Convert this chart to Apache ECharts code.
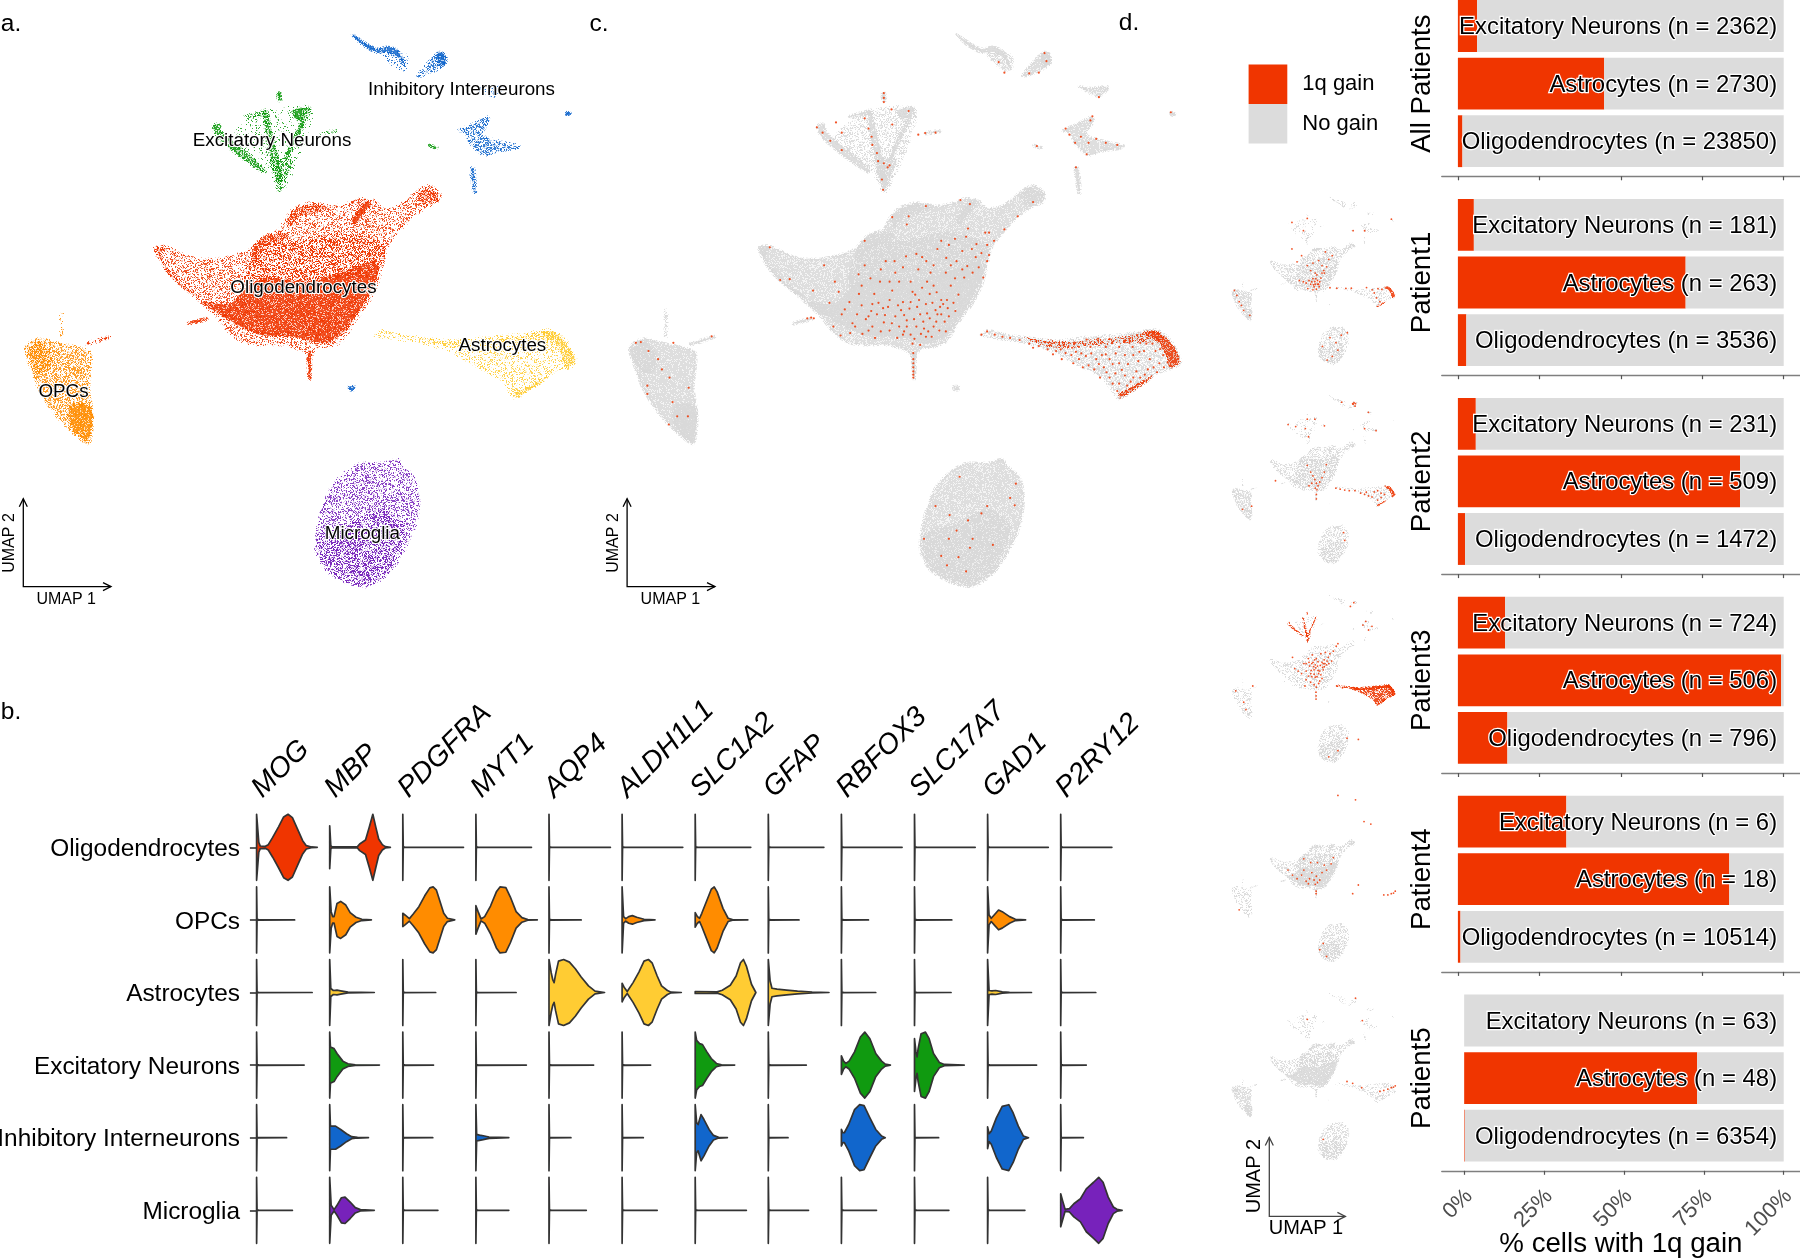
<!DOCTYPE html>
<html><head><meta charset="utf-8">
<style>html,body{margin:0;padding:0;background:#fff}#c{width:1800px;height:1259px}</style>
<script src="https://cdn.jsdelivr.net/npm/echarts@6/dist/echarts.min.js"></script>
</head><body><div id="c"></div>
<script>
/* ---------- cell types and colours ---------- */
const cellTypes = ['Oligodendrocytes','OPCs','Astrocytes','Excitatory Neurons','Inhibitory Interneurons','Microglia'];
const cellColors = ['#F03500','#FF8C00','#FFCC33','#109A10','#1166CC','#7722BB'];
const RED = '#F03500', GREY = '#D8D8D8';

/* ---------- UMAP outlines (UMAP units 0-1568) ---------- */
const oligoOutline = [[403,607],[425,602],[455,612],[490,628],[530,635],[580,632],[630,620],[655,610],[690,575],[730,562],[745,535],[770,510],[815,497],[870,505],[920,495],[940,487],[975,490],[1000,510],[1040,505],[1075,480],[1100,462],[1125,455],[1150,475],[1145,495],[1110,510],[1075,535],[1040,570],[1010,610],[1000,650],[985,700],[960,745],[925,790],[895,835],[860,850],[825,855],[812,880],[810,930],[805,880],[790,860],[740,845],[680,845],[640,840],[600,815],[560,770],[500,720],[440,670],[415,635]];
const oligoCore = [[530,740],[600,745],[650,700],[700,680],[800,690],[900,665],[975,640],[990,660],[965,720],[925,780],[885,825],[840,840],[770,825],[680,820],[620,795],[575,770]];
const oligoMid = [[650,640],[700,600],[790,590],[900,570],[1000,600],[990,660],[900,680],[780,690],[680,700],[640,700]];
const oligoArcA = [[660,612],[690,580],[745,570],[755,582],[700,600],[672,628],[664,660]];
const oligoArcB = [[750,540],[775,512],[820,502],[855,508],[830,520],[780,530],[758,555]];
const oligoStreak = [[920,540],[955,495],[970,497],[948,525],[928,550]];
const oligoTip = [[1090,480],[1112,462],[1145,478],[1140,492],[1105,500]];
const oligoEdge = [[408,610],[428,606],[418,630],[455,678],[520,728],[495,716],[440,668]];
const oligoStream = [[492,792],[538,780],[541,783],[496,794]];
const oligoStem = [[805,865],[812,865],[810,928],[807,928]];
const opcOutline = [[65,855],[80,838],[105,830],[150,840],[200,850],[238,865],[232,950],[242,1020],[232,1087],[190,1060],[140,1010],[100,950],[80,900]];
const opcCoreTop = [[72,860],[105,838],[130,860],[130,905],[100,910]];
const opcCoreLow = [[190,990],[238,1000],[230,1080],[192,1052],[178,1020]];
const opcStem = [[159,760],[163,760],[162,825],[159,825]];
const opcStream = [[224,842],[288,823],[288,826],[228,845]];
const astroOutline = [[980,822],[1000,810],[1060,822],[1130,830],[1180,835],[1270,825],[1350,820],[1440,808],[1470,825],[1490,850],[1507,885],[1490,900],[1440,915],[1400,945],[1345,978],[1330,960],[1300,925],[1230,890],[1170,860],[1100,840],[1030,830]];
const astroTopBand = [[1100,828],[1200,838],[1350,826],[1440,812],[1465,828],[1445,835],[1350,840],[1180,852],[1130,840]];
const astroRightBand = [[1410,815],[1440,812],[1468,828],[1488,852],[1503,885],[1480,900],[1470,875],[1450,840]];
const astroBottomBand = [[1345,965],[1400,938],[1430,922],[1412,938],[1348,974]];
const microgliaOutline = [[945,1135],[1000,1135],[1040,1125],[1050,1140],[1085,1170],[1095,1220],[1085,1290],[1050,1360],[1010,1410],[960,1437],[900,1425],[850,1395],[825,1345],[835,1270],[865,1195],[905,1155]];
const microgliaCore = [[835,1310],[900,1290],[1000,1250],[1060,1290],[1020,1390],[960,1430],[880,1410],[840,1370]];
const excFan = [[600,340],[690,275],[815,268],[735,472],[700,420]];
const excLeftArm = [[557,308],[572,304],[580,325],[640,372],[695,418],[688,422],[620,378],[565,332]];
const excTopBar = [[640,285],[688,272],[696,272],[696,280],[650,288]];
const excStalk = [[688,272],[697,270],[712,330],[728,390],[740,440],[728,448],[708,385],[696,330]];
const excRightArm = [[795,265],[810,264],[802,290],[778,335],[750,392],[742,394],[764,340],[785,300]];
const excWedge = [[765,272],[792,266],[782,295]];
const excLow = [[708,392],[762,392],[750,430],[730,470],[718,438]];
const excTop = [[726,228],[732,228],[734,246],[728,246]];
const excStream = [[838,325],[878,320],[878,322],[840,328]];
const excDot = [[1122,356],[1142,361],[1140,363],[1122,358]];
const inhArm = [[920,84],[950,103],[985,120],[1015,115],[1040,125],[1058,158],[1046,145],[1020,128],[985,128],[945,108]];
const inhFaint = [[1000,130],[1060,135],[1065,170],[1040,170]];
const inhRight = [[1092,185],[1130,142],[1150,128],[1165,136],[1162,158],[1135,174],[1102,186]];
const inhRightCore = [[1142,132],[1162,132],[1165,156],[1147,160]];
const inhLower = [[1198,320],[1240,302],[1272,286],[1278,296],[1258,330],[1310,347],[1356,357],[1352,363],[1300,370],[1265,380],[1228,350],[1218,325]];
const inhStalk = [[1230,412],[1238,412],[1243,473],[1239,473],[1233,440]];
const inhDot = [[1480,275],[1490,277],[1488,283],[1481,281]];
const inhSpot = [[912,947],[926,947],[924,955],[914,955]];
const inhUpper = [[1240,213],[1272,216],[1318,212],[1292,236]];

const gainOligo = [[432,606],[459,686],[484,684],[574,650],[545,712],[547,780],[612,715],[617,822],[672,700],[680,650],[640,740],[660,770],[690,775],[705,720],[720,690],[735,640],[758,640],[770,690],[752,712],[745,735],[728,755],[700,800],[690,810],[712,770],[760,775],[775,760],[790,800],[800,820],[815,800],[825,770],[840,745],[800,740],[805,715],[830,705],[850,720],[860,700],[880,735],[870,770],[850,780],[835,805],[860,800],[880,770],[895,735],[905,700],[885,745],[790,785],[770,800],[810,830],[825,845],[855,825],[875,810],[900,775],[840,505],[752,532],[795,530],[955,500],[930,490],[1080,530],[1120,495],[1045,562],[1005,570],[985,620],[1000,600],[960,610],[970,630],[945,580],[950,560],[880,590],[870,610],[905,650],[935,660],[940,680],[920,640],[990,680],[1000,640],[780,655],[820,660],[800,690],[860,650],[830,630],[900,600],[680,590],[790,550],[620,770],[598,800],[655,800],[730,790],[745,810],[780,820],[840,825],[865,760],[822,735],[780,740],[745,690],[700,745],[665,720],
[628,758],[648,792],[672,748],[683,782],[697,762],[716,742],[733,772],[741,752],[751,792],[767,748],[783,772],[797,756],[809,782],[817,752],[833,788],[843,768],[857,742],[867,788],[877,752],[889,788],[897,755],[912,742],[925,722],[917,762],[892,812],[846,812],[827,818],[805,842],[783,812],[765,828],[722,812],[707,828],[674,818],[642,816],[812,722],[843,690],[868,716],[852,668],[892,668],[916,682],[948,652],[962,668],[978,655],[1005,625],[1018,590],[995,570],[972,598],[935,615],[916,585],[893,632],[841,640],[815,622],[788,628],[760,668],[722,660],[695,682],[664,672],[602,690],[588,742],
[807,865],[807,880],[807,890],[807,900],[807,910],[807,918],[807,925],[540,778],[530,780]];
const gainOther = [[82,840],[95,838],[115,860],[140,880],[150,905],[170,925],[112,945],[112,965],[178,985],[190,1020],[218,1020],[168,1040],[220,950],[180,840],[280,824],
[555,312],[570,325],[590,345],[620,368],[605,300],[620,325],[680,290],[690,315],[698,335],[700,355],[712,375],[715,395],[730,400],[740,410],[725,440],[728,465],[745,405],[730,228],[730,240],[730,250],[750,268],[795,272],[752,305],[820,330],[838,326],[865,325],[1130,358],
[1030,152],[1045,178],[1110,180],[1135,178],[1150,130],[1155,150],[1275,285],[1270,295],[1205,315],[1215,330],[1230,350],[1245,335],[1265,350],[1285,340],[1310,350],[1340,355],[1260,378],[1232,410],[1480,275],[1292,238],
[928,1168],[1075,1185],[1060,1220],[1072,1238],[865,1240],[902,1262],[1000,1240],[950,1275],[985,1258],[920,1300],[962,1320],[835,1320],[900,1320],[955,1342],[880,1362],[925,1365],[895,1385],[945,1400],[1015,1335]];
const gainAstro = [[985,820],[1000,812],[1020,820],[1040,825],[1060,828],[1085,833],[1110,842],[1120,852],[1135,848],[1150,838],[1165,845],[1180,860],[1195,880],[1205,865],[1220,870],[1225,890],[1240,880],[1250,900],[1265,895],[1280,905],[1295,925],[1285,880],[1305,900],[1320,925],[1335,915],[1345,940],[1360,920],[1375,935],[1300,870],[1320,880],[1345,850],[1360,870],[1395,885],[1410,860],[1425,880],[1435,900],[1380,850],[1345,890],[1310,850],[1270,850],[1240,850],[1390,910],[1400,925],[1420,905],[1450,890],[1460,870],[1440,860],[1400,840],[1360,835],[1320,830],[1290,830],[1260,832],[1230,840],[1200,845],[1175,840],
[1128,836],[1158,856],[1172,868],[1212,850],[1232,862],[1258,872],[1272,866],[1292,892],[1312,912],[1328,892],[1352,906],[1368,892],[1382,870],[1398,862],[1416,842],[1432,842],[1452,855],[1472,888],[1462,900],[1444,912],[1412,918],[1382,925],[1366,945],[1340,958],[1328,940],[1310,868],[1336,866],[1372,840],[1246,866],[1222,852],[1192,856]];
const gainAll = gainOligo.concat(gainOther,gainAstro);
const gainPatient1 = [[1252,817],[1302,835],[1353,826],[1388,832],[1320,860],[1340,900],[1370,930],[930,818],[990,822],[1070,824],[1118,822],[595,506],[640,610],[680,560],[730,640],[760,680],[800,700],[797,768],[780,745],[820,760],[850,740],[830,790],[790,810],[760,790],[720,780],[695,770],[660,760],[880,700],[900,650],[860,640],[920,590],[950,560],[890,530],[830,600],[780,620],[810,830],[820,790],[735,825],[780,835],[88,840],[110,880],[130,930],[170,1000],[224,1040],[150,960],[864,1290],[930,1220],[983,1260],[1030,1200],[1083,1180],[1000,1320],[950,1370],[905,1400],[595,293],[696,359],[730,261],[1134,359],[1235,360],[1471,267],[770,770],[805,745],[840,770],[745,760],[860,700],[875,680],[815,715],[785,795],[835,810],[800,790]];
const gainPatient2 = [[982,830],[1020,838],[1060,845],[1100,850],[1150,850],[1200,870],[1235,880],[1270,892],[1320,860],[1350,850],[1300,900],[1350,925],[1380,905],[1410,880],[730,646],[760,700],[780,730],[797,760],[810,790],[825,810],[840,780],[770,790],[745,810],[860,745],[880,700],[898,640],[800,830],[815,843],[810,880],[810,915],[561,318],[628,334],[730,275],[797,275],[881,328],[741,416],[713,350],[1033,138],[1134,154],[1151,170],[1269,220],[1235,351],[1336,367],[240,974],[160,1000],[1050,1187],[1060,1250],[450,770],[1130,150],[1142,142],[1155,150],[1250,862],[1380,870]];
const gainPatient3 = [[600,590],[620,680],[680,720],[700,640],[720,700],[740,600],[750,660],[760,720],[775,570],[780,630],[790,690],[800,750],[810,600],[820,660],[830,720],[840,780],[850,560],[860,630],[870,690],[880,610],[890,550],[900,650],[915,590],[930,560],[945,620],[960,540],[985,500],[1000,480],[720,770],[760,790],[790,810],[810,830],[830,800],[860,760],[770,640],[800,650],[740,740],[710,820],[807,870],[807,900],[807,925],[720,640],[650,700],[840,700],[870,640],[920,640],[100,860],[170,950],[190,1010],[1180,1250],[1080,1240],[1000,1340],[920,1390],[250,820],[1040,835],[990,820],[1110,180],[1140,150],[1300,340],[1220,330],[1270,370],[1245,300],[765,695],[785,665],[805,675],[825,695],[845,655],[865,670],[885,640],[905,620],[770,745],[790,725],[815,745],[850,730],[880,665],[825,625],[795,610],[745,630]];
const gainPatient4 = [[560,700],[600,740],[640,770],[680,740],[700,700],[720,790],[750,770],[770,720],[790,780],[810,750],[820,800],[840,780],[860,720],[880,660],[820,640],[760,640],[700,610],[900,700],[940,650],[960,600],[740,810],[800,815],[808,870],[808,890],[1180,820],[1130,890],[1404,900],[1440,900],[1470,890],[1490,885],[1505,870],[1000,100],[1155,135],[1230,310],[1290,330],[870,1290],[840,1340],[900,1395],[130,1020]];
const gainPatient5 = [[1080,800],[1130,815],[1210,850],[1370,880],[1404,872],[1440,862],[1470,850],[1490,845],[1505,835],[1155,130],[730,300],[870,1265],[1215,310]];

/* cluster outlines with a density tier */
const umapShapes = [
 {cell:0,tier:1.5,pts:oligoOutline},{cell:0,tier:2,pts:oligoMid},{cell:0,tier:3,pts:oligoCore},{cell:0,tier:2.5,pts:oligoArcA},{cell:0,tier:2.5,pts:oligoArcB},{cell:0,tier:3,pts:oligoStreak},{cell:0,tier:2.5,pts:oligoTip},{cell:0,tier:2.5,pts:oligoEdge},{cell:0,tier:3,pts:oligoStream},{cell:0,tier:3,pts:oligoStem},
 {cell:1,tier:2,pts:opcOutline},{cell:1,tier:2.5,pts:opcCoreTop},{cell:1,tier:3,pts:opcCoreLow},{cell:1,tier:1,pts:opcStem},{cell:0,tier:2,pts:opcStream},
 {cell:2,tier:1,pts:astroOutline},{cell:2,tier:2,pts:astroTopBand},{cell:2,tier:2.5,pts:astroRightBand},{cell:2,tier:2.5,pts:astroBottomBand},
 {cell:5,tier:1.5,pts:microgliaOutline},{cell:5,tier:2,pts:microgliaCore},
 {cell:3,tier:.5,pts:excFan},{cell:3,tier:2.5,pts:excLeftArm},{cell:3,tier:2,pts:excTopBar},{cell:3,tier:2.5,pts:excStalk},{cell:3,tier:2.5,pts:excRightArm},{cell:3,tier:3,pts:excWedge},{cell:3,tier:2,pts:excLow},{cell:3,tier:3,pts:excTop},{cell:3,tier:2,pts:excStream},{cell:3,tier:3,pts:excDot},
 {cell:4,tier:3,pts:inhArm},{cell:4,tier:1,pts:inhFaint},{cell:4,tier:2,pts:inhRight},{cell:4,tier:3,pts:inhRightCore},{cell:4,tier:2,pts:inhLower},{cell:4,tier:2.5,pts:inhStalk},{cell:4,tier:3,pts:inhDot},{cell:4,tier:3,pts:inhSpot},{cell:4,tier:1.5,pts:inhUpper}
];
const astroGainAll = [{tier:1,pts:astroOutline},{tier:2,pts:astroTopBand},{tier:3,pts:astroRightBand},{tier:2.5,pts:astroBottomBand}];
const astroGainEdge = [{tier:3,pts:astroRightBand},{tier:2.5,pts:astroBottomBand}];
const excGainShapes = [{tier:2,pts:excLeftArm},{tier:2,pts:excStalk},{tier:2,pts:excRightArm},{tier:3,pts:excTop},{tier:2,pts:excLow}];

/* panel a cluster labels */
const clusterLabels = [['Inhibitory Interneurons',1206,218],['Excitatory Neurons',711,343],['Oligodendrocytes',793,703],['Astrocytes',1313,844],['OPCs',166,958],['Microglia',947,1305]];

/* ---------- panel b ---------- */
const genes = ['MOG','MBP','PDGFRA','MYT1','AQP4','ALDH1L1','SLC1A2','GFAP','RBFOX3','SLC17A7','GAD1','P2RY12'];
const flatTails = [
 [null,null,8.3,7.6,8.4,8.3,7.6,7.6,8.3,8.3,8.3,7.0],
 [5.2,null,null,null,4.4,null,null,4.2,3.7,5.1,null,4.6],
 [7.6,null,4.5,5.5,null,null,null,null,4.7,5.0,null,4.8],
 [6.5,null,4.2,6.9,6.1,3.9,null,5.2,null,null,6.7,3.5],
 [4.1,null,4.1,null,3.0,2.9,null,2.7,null,3.3,null,3.1],
 [4.9,null,4.8,4.5,5.1,4.8,7.0,5.5,4.8,4.7,5.1,null]];
const violinProfiles = {
 '0-0':[[0,1],[.3,.15],[.5,.04],[1.2,.03],[1.6,.08],[2.2,.3],[3,.62],[3.7,.92],[4.3,1],[4.9,.9],[5.6,.55],[6.3,.2],[6.8,.05],[7.5,.01],[8.3,0]],
 '0-1':[[0,.65],[.15,.05],[.3,.015],[3.8,.02],[4.1,.1],[4.9,.22],[5.4,.6],[5.9,1],[6.3,.62],[6.7,.25],[7.2,.08],[7.6,.02],[8.3,0]],
 '1-1':[[0,1],[.2,.25],[.4,.1],[.6,.1],[1,.5],[1.5,.56],[2.2,.45],[2.8,.22],[3.6,.08],[4.4,.02],[5.7,0]],
 '2-1':[[0,1],[.15,.12],[.5,.06],[1,.07],[1.5,.05],[2.5,.01],[6.1,0]],
 '3-1':[[0,1],[.1,.55],[.6,.5],[1,.35],[1.8,.12],[2.5,.04],[3.5,.01],[6.8,0]],
 '4-1':[[0,1],[.1,.35],[.8,.35],[1.5,.25],[2.3,.12],[3,.03],[3.8,.01],[5.3,0]],
 '5-1':[[0,1],[.2,.15],[.6,.02],[1,.15],[1.6,.38],[2.1,.4],[2.8,.25],[3.5,.08],[4.2,.02],[6.1,0]],
 '1-2':[[0,.2],[.3,.15],[.9,.04],[1.4,.17],[2.2,.4],[3,.73],[3.7,.97],[4.15,1],[4.6,.9],[5.1,.55],[5.6,.2],[6.1,.05],[7.1,0]],
 '1-3':[[0,.43],[.3,.25],[.7,.03],[1.2,.1],[2,.42],[2.8,.85],[3.3,1],[4.1,.98],[4.7,.7],[5.5,.25],[6.3,.07],[7.1,.01],[8.4,0]],
 '4-3':[[0,1],[.1,.1],[.5,.08],[1,.06],[1.8,.02],[4.5,0]],
 '2-4':[[0,1],[.3,.6],[.5,.4],[.7,.3],[.9,.55],[1.3,.95],[2,1],[2.8,.92],[3.6,.72],[4.4,.47],[5.4,.2],[6.3,.04],[7.6,0]],
 '1-5':[[0,1],[.2,.1],[.5,.04],[.9,.1],[1.4,.13],[2,.08],[3,.02],[4.5,0]],
 '2-5':[[0,.28],[.3,.15],[.7,.03],[1.5,.3],[2.3,.62],[3,.95],[3.6,1],[4.1,.9],[4.8,.5],[5.4,.2],[6.2,.06],[6.7,.01],[8.1,0]],
 '1-6':[[0,.22],[.3,.1],[.6,.05],[.9,.2],[1.7,.65],[2.2,.93],[2.6,1],[3,.85],[3.8,.35],[4.5,.05],[5.1,.01],[7.2,0]],
 '2-6':[[0,.03],[3,.02],[3.7,.07],[4.8,.22],[5.6,.5],[6.2,.9],[6.6,1],[7,.8],[7.7,.25],[8.3,0]],
 '3-6':[[0,1],[.2,.75],[.6,.65],[1,.62],[1.6,.4],[2.2,.2],[2.9,.05],[3.6,.01],[5.4,0]],
 '4-6':[[0,1],[.2,.45],[.4,.4],[.8,.7],[1.2,.55],[1.9,.25],[2.5,.07],[3.2,.01],[4.4,0]],
 '2-7':[[0,1],[.25,.35],[.5,.13],[1.2,.1],[2.5,.07],[4,.04],[6,.015],[8.3,0]],
 '3-8':[[0,.28],[.3,.12],[.6,.05],[1.05,.12],[1.8,.4],[2.6,.85],[3.2,1],[3.9,.8],[4.7,.35],[5.5,.12],[6,.03],[6.7,0]],
 '4-8':[[0,.25],[.2,.15],[.4,.15],[1,.4],[1.8,.85],[2.5,1],[3.1,.97],[3.9,.6],[4.7,.25],[5.5,.05],[6,0]],
 '3-9':[[0,.8],[.2,.4],[.35,.25],[.5,.5],[.9,.95],[1.5,1],[2,.8],[2.6,.35],[3.4,.08],[4.1,.02],[6.8,0]],
 '1-10':[[0,1],[.2,.15],[.5,.05],[.9,.15],[1.5,.3],[2,.25],[3,.1],[3.8,.02],[5.2,0]],
 '2-10':[[0,1],[.2,.06],[.6,.05],[1.1,.06],[2,.02],[3,.005],[6,0]],
 '4-10':[[0,.33],[.2,.12],[.5,.2],[1.2,.6],[2,.95],[2.9,1],[3.5,.75],[4.2,.35],[4.9,.05],[5.6,0]],
 '5-11':[[0,.5],[.25,.3],[.6,.03],[1.2,.05],[1.8,.2],[2.7,.35],[3.5,.65],[4.5,.85],[5.2,1],[5.8,.85],[6.5,.4],[7.2,.1],[7.7,.03],[8.4,0]]
};

/* ---------- panel d ---------- */
const barCells = ['Excitatory Neurons','Astrocytes','Oligodendrocytes'];
const facetNames = ['All Patients','Patient1','Patient2','Patient3','Patient4','Patient5'];
const gainPercent = [[5.9,44.9,1.4],[4.9,69.9,2.6],[5.5,86.6,2.2],[14.5,99.2,15.2],[33.3,83.3,0.8],[0,72.9,0.2]];
const cellCounts = [[2362,2730,23850],[181,263,3536],[231,509,1472],[724,506,796],[6,18,10514],[63,48,6354]];
const percentTicks = [0,25,50,75,100];
const patientGain = [gainPatient1,gainPatient2,gainPatient3,gainPatient4,gainPatient5];
const patientTiers = [[2,2,1,1,1,2],[2,2,1,1,1,2.5],[1,1,1,1,1,2],[3,1,0,0,0,2],[3,3,1,1,1,3]];

/* ---------- stipple fill: a texture only, not data ---------- */
const colourDensity = {.5:.07,1:.2,1.5:.28,2:.4,2.5:.6,3:.82};
const greyDensity = {.5:.3,1:.5,1.5:.74,2:.82,2.5:.9,3:.98};
const patientDensity = {.5:.12,1:.28,1.5:.36,2:.55,2.5:.75,3:.92};
const tileCache = {};
function tile(color, p){
  const key = color+p; if(tileCache[key]) return tileCache[key];
  const size=128, c=document.createElement('canvas'); c.width=c.height=size;
  const g=c.getContext('2d'), im=g.createImageData(size,size);
  const rgb=[1,3,5].map(i=>parseInt(color.substr(i,2),16));
  for(let y=0;y<size;y++)for(let x=0;x<size;x++){
    const s=Math.sin(x*12.9898+y*78.233)*43758.5453, h=s-Math.floor(s);
    const k=(y*size+x)*4; im.data[k]=rgb[0];im.data[k+1]=rgb[1];im.data[k+2]=rgb[2];
    im.data[k+3]=h<p?215:(h<p*1.5?70:0);
  }
  g.putImageData(im,0,0);
  return tileCache[key]={image:c,repeat:'repeat'};
}

/* ---------- layout ---------- */
const grids=[], xAxes=[], yAxes=[], series=[];
function addUmapGrid(left,top,width,height){
  grids.push({left,top,width,height,outerBoundsMode:'none'});
  xAxes.push({type:'value',min:0,max:1568,show:false,gridIndex:grids.length-1});
  yAxes.push({type:'value',min:0,max:1568,inverse:true,show:false,gridIndex:grids.length-1});
  return grids.length-1;
}
function shapeSeries(g,shapes,colorOf,density,edge){
  series.push({type:'custom',xAxisIndex:g,yAxisIndex:g,silent:true,animation:false,clip:false,
    data:shapes.map(s=>s.pts[0]),
    renderItem(p,api){const s=shapes[p.dataIndex], d=density[s.tier], col=colorOf(s);
      return {type:'polygon',shape:{points:s.pts.map(q=>api.coord(q)),smooth:.25},
        style:{fill:tile(col,d),stroke:tile(col,+(d*.45).toFixed(3)),lineWidth:edge,lineJoin:'round'}};}});
}
function gainSeries(g,pts,size){
  series.push({type:'scatter',xAxisIndex:g,yAxisIndex:g,silent:true,animation:false,symbolSize:size,data:pts,itemStyle:{color:RED,opacity:.85}});
}
const FONT='"Liberation Sans",Arial,sans-serif';

/* panel a */
const gA=addUmapGrid(0,0,600,640);
shapeSeries(gA,umapShapes,s=>cellColors[s.cell],colourDensity,3);
series.push({type:'scatter',xAxisIndex:gA,yAxisIndex:gA,symbolSize:0,silent:true,animation:false,z:5,itemStyle:{opacity:1},
  data:clusterLabels.map(l=>({name:l[0],value:[l[1],l[2]]})),
  label:{show:true,position:'inside',offset:[0,1],opacity:1,formatter:'{b}',fontFamily:FONT,fontSize:18.8,color:'#000',textBorderColor:'#fff',textBorderWidth:2}});
/* panel c */
const gC=addUmapGrid(604.5,0,600,640);
shapeSeries(gC,umapShapes,()=>GREY,greyDensity,3);
shapeSeries(gC,astroGainAll.slice(1),()=>RED,{2:.3,2.5:.6,3:.72},2);
gainSeries(gC,gainAll,2.2);
/* patient panels */
const patientTops=[186,385,584,783,982];
patientTops.forEach((t,i)=>{
  const g=addUmapGrid(1224.4,t,178,195);
  const cap=patientTiers[i];
  const shapes=umapShapes.filter(s=>cap[s.cell]>0&&!(s.cell===2&&s.tier>1)).map(s=>({tier:Math.min(s.tier,cap[s.cell]),pts:s.pts}));
  shapeSeries(g,shapes,()=>GREY,patientDensity,1);
  if(i===2) shapeSeries(g,astroGainAll,()=>RED,{1:.6,2:.95,2.5:.9,3:1},1);
  else if(i<2) shapeSeries(g,astroGainEdge,()=>RED,{2.5:.7,3:.9},1);
  if(i===2) shapeSeries(g,excGainShapes,()=>RED,{2:.5,3:.8},.6);
  gainSeries(g,patientGain[i],1.8);
});

/* panel b violins */
const colW=73.1, rowH=72.6;
const gV=grids.length;
grids.push({left:256.6,top:811,width:colW*12,height:rowH*6,outerBoundsMode:'none'});
xAxes.push({type:'value',gridIndex:gV,position:'top',min:0,max:120,interval:10,splitLine:{show:false},axisLine:{show:false},axisTick:{show:false},
  axisLabel:{show:true,rotate:-45,margin:18,fontFamily:FONT,fontStyle:'italic',fontSize:28.5,color:'#000',hideOverlap:false,showMaxLabel:false,formatter:v=>genes[v/10]||''}});
yAxes.push({type:'category',gridIndex:gV,inverse:true,data:cellTypes,offset:3.6,axisLine:{show:false},axisTick:{show:true,length:6.7,lineStyle:{color:'#333',width:1.6},alignWithLabel:true},
  axisLabel:{margin:13,formatter:v=>'{r|'+v+'}',rich:{r:{padding:[4,0,0,0],fontFamily:FONT,fontSize:24.4,color:'#000'}}},splitLine:{show:false}});
const violins=[];
cellTypes.forEach((_,r)=>genes.forEach((__,c)=>{
  const tail=flatTails[r][c];
  violins.push({r,c,profile:tail===null?violinProfiles[r+'-'+c]:[[0,1],[.06,.012],[.3,.006],[tail,0]]});
}));
series.push({type:'custom',xAxisIndex:gV,yAxisIndex:gV,silent:true,animation:false,clip:false,
  data:violins.map(v=>[v.c*10,v.r]),
  renderItem(p,api){const v=violins[p.dataIndex];
    const H=api.size([0,1])[1]*.4545;
    const up=[],down=[];
    v.profile.forEach(([e,d])=>{const q=api.coord([v.c*10+e,v.r]);up.push([q[0],q[1]-d*H]);down.unshift([q[0],q[1]+d*H]);});
    return {type:'polygon',shape:{points:up.concat(down)},style:{fill:cellColors[v.r],stroke:'#333',lineWidth:1.7,lineJoin:'round'}};}});

/* panel d bars */
const facetStep=198.9;
facetNames.forEach((name,i)=>{
  const g=grids.length, last=i===5;
  grids.push({left:1441.8,top:-2.8+facetStep*i,width:358.2,height:172.8,outerBoundsMode:'none'});
  xAxes.push({type:'value',gridIndex:g,min:last?-7:-4.94,max:last?105.1:105,splitLine:{show:false},offset:6.3,
    axisLine:{show:true,onZero:false,lineStyle:{color:'#7F7F7F',width:1.4}},
    axisTick:{show:true,length:4,customValues:percentTicks,lineStyle:{color:'#555',width:1.2}},
    axisLabel:{show:last,customValues:percentTicks,rotate:45,margin:27,padding:[0,-7,0,0],fontFamily:FONT,fontSize:22,color:'#4D4D4D',formatter:'{value}%'},
    name:last?'% cells with 1q gain':'',nameLocation:'middle',nameGap:60,nameMoveOverlap:false,nameTextStyle:{fontFamily:FONT,fontSize:27.7,color:'#000'}});
  yAxes.push({type:'category',gridIndex:g,inverse:true,data:barCells,axisLine:{show:false},axisTick:{show:false},axisLabel:{show:false},
    name,nameLocation:'middle',nameRotate:90,nameGap:5,nameTextStyle:{fontFamily:FONT,fontSize:27.7,color:'#000'}});
  series.push({name:'1q gain',type:'bar',xAxisIndex:g,yAxisIndex:g,stack:'f'+i,barWidth:'90%',animation:false,silent:true,itemStyle:{color:RED},data:gainPercent[i]});
  series.push({name:'No gain',type:'bar',xAxisIndex:g,yAxisIndex:g,stack:'f'+i,barWidth:'90%',animation:false,silent:true,itemStyle:{color:'#DCDCDC'},
    data:gainPercent[i].map(v=>100-v),
    label:{show:true,position:'insideRight',distance:6.6,offset:[0,1.5],fontFamily:FONT,fontSize:23.9,color:'#000',textBorderColor:'#fff',textBorderWidth:2.4,
      formatter:p=>barCells[p.dataIndex]+' (n = '+cellCounts[i][p.dataIndex]+')'}});
});

/* non-data annotation */
function text(t,x,y,size,extra){return Object.assign({type:'text',x,y,style:{text:t,fontFamily:FONT,fontSize:size,fill:'#000',textAlign:'center',textVerticalAlign:'middle'}},extra||{});}
function arrows(ox,oy,xe,ye,lx,ly,vx,vy,size,color){
  const st={stroke:color,lineWidth:1.3,fill:null};
  return [
   {type:'polyline',shape:{points:[[ox,ye],[ox,oy],[xe,oy]]},style:st},
   {type:'polyline',shape:{points:[[ox-4,ye+8],[ox,ye],[ox+4,ye+8]]},style:st},
   {type:'polyline',shape:{points:[[xe-8,oy-4],[xe,oy],[xe-8,oy+4]]},style:st},
   text('UMAP 1',lx,ly,size),
   text('UMAP 2',vx,vy,size,{rotation:Math.PI/2})
  ];
}
const graphic=[
  text('a.',11,24,24.5),text('b.',11,712,24.5),text('c.',599,24,24.5),text('d.',1129,23,24.5),
  ...arrows(23.3,586.6,111,498.8,66.2,600,9.6,543,16,'#000'),
  ...arrows(627.1,586.6,715,498.8,670.4,600,613.8,543,16,'#000'),
  ...arrows(1269.3,1216.4,1345.4,1137.5,1306,1228,1254.6,1176,20,'#444')
];

const chart=echarts.init(document.getElementById('c'),null,{renderer:'canvas',devicePixelRatio:1});
chart.setOption({
  animation:false,backgroundColor:'#fff',textStyle:{fontFamily:FONT},
  grid:grids,xAxis:xAxes,yAxis:yAxes,series,graphic,
  legend:{orient:'vertical',left:1248.6,top:64.5,padding:0,itemWidth:38.7,itemHeight:39.5,itemGap:0,icon:'rect',data:['1q gain','No gain'],selectedMode:false,
    textStyle:{fontFamily:FONT,fontSize:22,color:'#000',padding:[2,0,0,10]}}
});
</script></body></html>
